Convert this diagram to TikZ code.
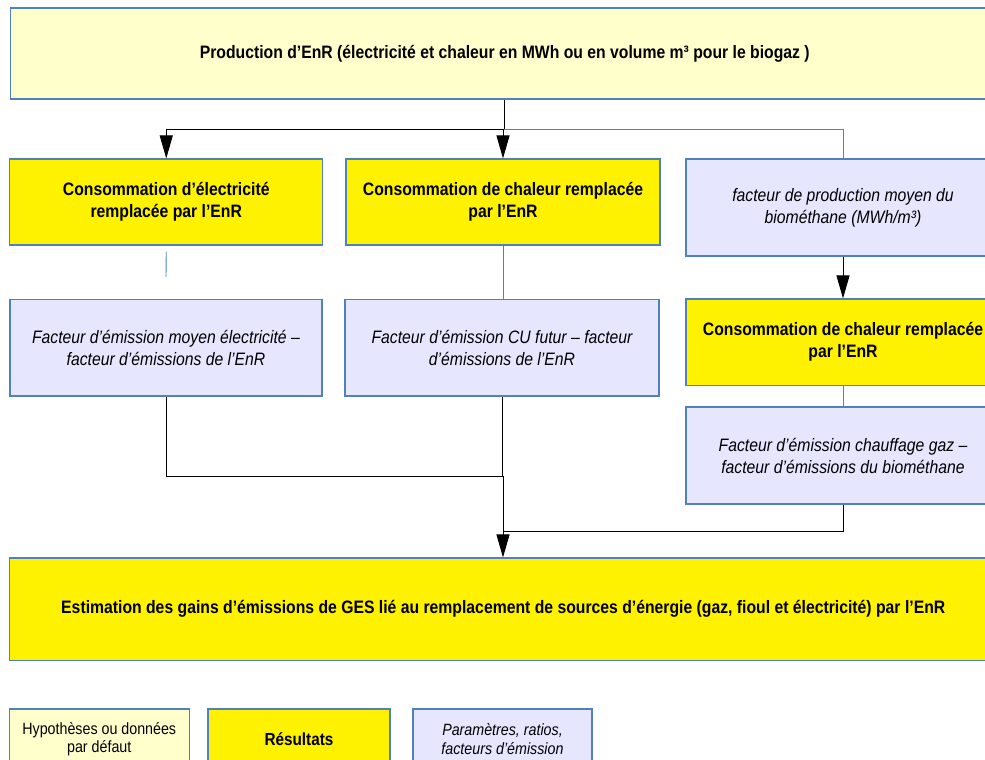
\documentclass[tikz,border=0pt]{standalone}
\usepackage{fontspec}
\setmainfont{Liberation Sans}[FakeStretch=0.875]
\usetikzlibrary{arrows.meta}

\definecolor{hypofill}{HTML}{FFFFCC}
\definecolor{resfill}{HTML}{FFF200}
\definecolor{parfill}{HTML}{E6E6FF}
\definecolor{boxedge}{HTML}{4F81BD}

\begin{document}
\begin{tikzpicture}[x=1pt, y=-1pt,
    box/.style={draw=boxedge, line width=1.1pt, inner sep=0pt, align=center, font=\fontsize{18}{22}\selectfont},
    hypo/.style={box, fill=hypofill, font=\fontsize{18}{22}\selectfont\bfseries},
    result/.style={box, fill=resfill, font=\fontsize{18}{22}\selectfont\bfseries},
    param/.style={box, fill=parfill, font=\fontsize{18}{22}\selectfont\itshape},
    legend/.style={minimum width=180pt, minimum height=60pt, font=\fontsize{16.3}{18.5}\selectfont},
    arr/.style={draw=black, line width=0.9pt, -{Triangle[length=23pt, width=13pt]}},
    wire/.style={draw=black, line width=0.9pt},
    link/.style={draw=boxedge, line width=0.9pt}]
    \useasboundingbox (0,0) rectangle (985,760);
    \clip (0,0) rectangle (985,760);

    % inputs
    \node[hypo, minimum width=988pt, minimum height=91pt] (prod) at (504.75,53.5) {Production d’EnR (électricité et chaleur en MWh ou en volume m³ pour le biogaz )};

    % first row
    \node[result, minimum width=313pt, minimum height=86pt] (elec) at (166.25,202) {Consommation d’électricité\\remplacée par l’EnR};
    \node[result, minimum width=314pt, minimum height=86pt] (chal) at (503,202) {Consommation de chaleur remplacée\\par l’EnR};
    \node[param, minimum width=314pt, minimum height=97pt] (biom) at (843,207.5) {facteur de production moyen du\\biométhane (MWh/m³)};

    % second row
    \node[param, minimum width=312pt, minimum height=96.5pt] (felec) at (166,347.75) {Facteur d’émission moyen électricité –\\facteur d’émissions de l’EnR};
    \node[param, minimum width=314pt, minimum height=96.5pt] (fecu) at (502,347.75) {Facteur d’émission CU futur – facteur\\d’émissions de l’EnR};
    \node[result, minimum width=314pt, minimum height=86.5pt] (chal2) at (843,342.25) {Consommation de chaleur remplacée\\par l’EnR};
    \node[param, minimum width=314pt, minimum height=97pt] (fgaz) at (843,455.5) {Facteur d’émission chauffage gaz –\\facteur d’émissions du biométhane};

    % result
    \node[result, minimum width=987pt, minimum height=102.5pt] (estim) at (503.25,609.25) {Estimation des gains d’émissions de GES lié au remplacement de sources d’énergie (gaz, fioul et électricité) par l’EnR};

    % legend
    \node[box, fill=hypofill, legend] (leg1) at (99.25,739) {Hypothèses ou données\\par défaut};
    \node[box, fill=resfill, legend, font=\fontsize{17.5}{18.5}\selectfont\bfseries, minimum width=182pt] (leg2) at (299,739) {Résultats};
    \node[box, fill=parfill, legend, font=\fontsize{16.3}{18.5}\selectfont\itshape, minimum width=179pt] (leg3) at (502.5,739) {Paramètres, ratios,\\facteurs d’émission};

    % connectors
    \coordinate (split) at (504,129);
    \coordinate (merge) at (503,476);
    \coordinate (join) at (503,531);
    \draw[wire] (prod.south -| split) -- (split);
    \draw[arr] (split) -| (elec.north);
    \draw[arr] (split) -| (chal.north);
    \draw[link] (split) -| (biom.north);
    \draw[link] ([yshift=-6pt]elec.south) -- ([yshift=22pt]felec.north);
    \draw[link] (chal.south) -- (chal.south |- fecu.north);
    \draw[arr] (biom) -- (chal2);
    \draw[link] (chal2) -- (fgaz);
    \draw[wire] (felec.south) |- (merge);
    \draw[wire] (fecu.south) -- (fecu.south |- merge);
    \draw[wire] (fgaz.south) |- (join);
    \draw[arr] (merge) -- (estim.north -| merge);
\end{tikzpicture}
\end{document}
